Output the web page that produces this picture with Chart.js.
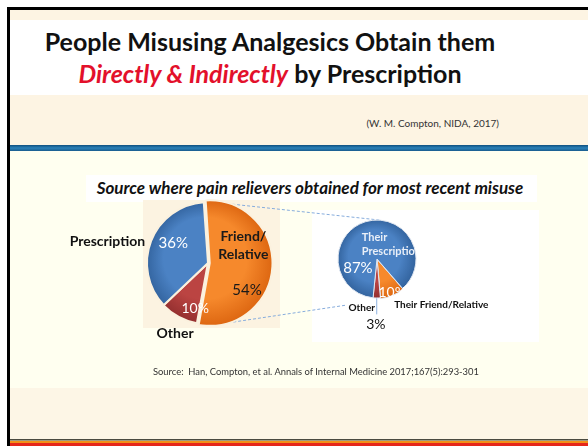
<!DOCTYPE html>
<html>
<head>
<meta charset="utf-8">
<script src="https://cdn.jsdelivr.net/npm/chart.js@4.4.1/dist/chart.umd.min.js"></script>
<style>
  body { margin: 0; width: 588px; height: 446px; position: relative; overflow: hidden; background: #fff; font-family: Lato, "Open Sans", sans-serif; }
  .abs { position: absolute; }
  canvas { position: absolute; }
</style>
</head>
<body>
<!-- slide background -->
<div class="abs" style="left:7px;top:7px;width:581px;height:439px;background:#fdf4e3;border-left:3px solid #000;border-top:3px solid #000;box-sizing:border-box"></div>
<div class="abs" style="left:10px;top:20px;width:578px;height:75px;background:#fff"></div>
<div class="abs" style="left:10px;top:145px;width:578px;height:6px;background:linear-gradient(#0f4f7e,#2a80b8 50%,#1a5d8e)"></div>
<div class="abs" style="left:10px;top:151px;width:578px;height:237px;background:#fffff0"></div>
<div class="abs" style="left:10px;top:388px;width:578px;height:51px;background:#fdf6e6"></div>
<div class="abs" style="left:10px;top:439px;width:578px;height:1px;background:#4a4a40"></div>
<div class="abs" style="left:10px;top:440px;width:578px;height:1px;background:#a09a80"></div>
<div class="abs" style="left:10px;top:441px;width:578px;height:2px;background:#f29018"></div>
<div class="abs" style="left:10px;top:443px;width:578px;height:3px;background:#e5261a"></div>

<!-- title -->
<div class="abs" style="left:0;top:25px;width:540px;text-align:center;font-weight:700;font-size:25px;line-height:32px;color:#111">
  People Misusing Analgesics Obtain them<br>
  <span style="color:#e3102b;font-style:italic">Directly &amp; Indirectly</span> by Prescription
</div>
<div class="abs" style="right:89px;top:117px;font-size:10px;color:#333">(W. M. Compton, NIDA, 2017)</div>

<!-- chart boxes -->
<div class="abs" style="left:86px;top:175px;width:451px;height:27px;background:#fff"></div>
<div class="abs" style="left:86px;top:176px;width:448px;text-align:center;font-weight:700;font-style:italic;font-size:17px;line-height:24px;color:#111;white-space:nowrap">Source where pain relievers obtained for most recent misuse</div>
<div class="abs" style="left:143px;top:200px;width:137px;height:128px;background:#fcf3e1"></div>
<div class="abs" style="left:312px;top:210px;width:227px;height:132px;background:#fff"></div>

<canvas id="links" width="588" height="446" style="left:0;top:0"></canvas>
<canvas id="mainPie" width="290" height="160" style="left:63px;top:183px"></canvas>
<canvas id="subPie" width="260" height="160" style="left:247px;top:179px"></canvas>

<div class="abs" style="left:153px;top:366px;font-size:9.4px;color:#333;white-space:nowrap">Source:&nbsp; Han, Compton, et al. Annals of Internal Medicine 2017;167(5):293-301</div>

<script>
// all sources of the most recently misused pain relievers (%)
const mainLabels = [['Friend/', 'Relative'], 'Other', 'Prescription'];
const mainValues = [54, 10, 36];
// where the friend/relative got them (%)
const subLabels = [['Their', 'Prescription'], 'Other', 'Their Friend/Relative'];
const subValues = [87, 3, 10];
const subOrder = [2, 1, 0];

const blue = ['#4b82c4', '#30609a'];
const orange = ['#f6892c', '#dc6510'];
const red = ['#bb4442', '#8f2d2d'];

function shade(palette, r) {
  return (c) => {
    const cols = palette[c.dataIndex];
    const a = c.chart.chartArea;
    if (!a || !cols) return cols ? cols[0] : '#999';
    const cx = (a.left + a.right) / 2, cy = (a.top + a.bottom) / 2;
    const g = c.chart.ctx.createRadialGradient(cx - r * 0.15, cy - r * 0.2, r * 0.1, cx, cy, r * 1.05);
    g.addColorStop(0, cols[0]);
    g.addColorStop(0.6, cols[0]);
    g.addColorStop(1, cols[1]);
    return g;
  };
}

const sliceText = {
  id: 'sliceText',
  afterDatasetsDraw(chart, args, opts) {
    const meta = chart.getDatasetMeta(0);
    const cx = meta.data[0].x, cy = meta.data[0].y, r = meta.data[0].outerRadius;
    const ctx = chart.ctx;
    opts.items.forEach(it => {
      const lines = it.kind === 'value'
        ? [chart.data.datasets[0].data[it.i] + '%']
        : [].concat(chart.data.labels[it.i]);
      ctx.save();
      if (it.clip) {
        ctx.beginPath();
        ctx.arc(cx, cy, r, 0, Math.PI * 2);
        ctx.clip();
      }
      ctx.font = it.font;
      ctx.fillStyle = it.color;
      ctx.textAlign = it.align || 'center';
      ctx.textBaseline = 'middle';
      lines.forEach((s, k) => ctx.fillText(s, cx + it.dx * r, cy + it.dy * r + k * (it.lh || 0)));
      ctx.restore();
    });
  }
};

const F = 'Lato, "Open Sans", sans-serif';
const mainR = 61, subR = 39;

const mainChart = new Chart(document.getElementById('mainPie'), {
  type: 'pie',
  data: {
    labels: mainLabels,
    datasets: [{
      data: mainValues,
      backgroundColor: shade([orange, red, blue], mainR),
      borderColor: '#fbf1de',
      borderWidth: 2,
      offset: [7, 1, 0]
    }]
  },
  options: {
    responsive: false,
    animation: false,
    radius: mainR,
    rotation: -4,
    events: [],
    plugins: {
      legend: { display: false },
      tooltip: { enabled: false },
      sliceText: {
        items: [
          { kind: 'label', i: 0, dx: 0.58, dy: -0.43, lh: 18, font: 'bold 14px ' + F, color: '#1a1a1a' },
          { kind: 'value', i: 0, dx: 0.64, dy: 0.44, font: '15px ' + F, color: '#1a1a1a' },
          { kind: 'value', i: 1, dx: -0.21, dy: 0.74, font: '14px ' + F, color: '#fff' },
          { kind: 'label', i: 1, dx: -0.54, dy: 1.15, font: 'bold 14px ' + F, color: '#111' },
          { kind: 'value', i: 2, dx: -0.57, dy: -0.32, font: '15px ' + F, color: '#fff' },
          { kind: 'label', i: 2, dx: -1.03, dy: -0.36, align: 'right', font: 'bold 14px ' + F, color: '#111' }
        ]
      }
    }
  },
  plugins: [sliceText]
});

const subChart = new Chart(document.getElementById('subPie'), {
  type: 'pie',
  data: {
    labels: subOrder.map(i => subLabels[i]),
    datasets: [{
      data: subOrder.map(i => subValues[i]),
      backgroundColor: shade([orange, red, blue], subR),
      borderColor: '#dfe6f0',
      borderWidth: 1,
      offset: [2, 0, 0]
    }]
  },
  options: {
    responsive: false,
    animation: false,
    radius: subR,
    rotation: 139,
    events: [],
    plugins: {
      legend: { display: false },
      tooltip: { enabled: false },
      sliceText: {
        items: [
          { kind: 'label', i: 2, dx: -0.39, dy: -0.54, lh: 14, align: 'left', clip: true, font: 'bold 11px ' + F, color: '#e9eff8' },
          { kind: 'value', i: 2, dx: -0.49, dy: 0.23, font: '15px ' + F, color: '#fff' },
          { kind: 'value', i: 0, dx: 0.39, dy: 0.85, font: '14px ' + F, color: '#fff' },
          { kind: 'label', i: 0, dx: 0.44, dy: 1.18, align: 'left', font: 'bold 10px ' + F, color: '#111' },
          { kind: 'label', i: 1, dx: -0.39, dy: 1.26, font: 'bold 10px ' + F, color: '#111' },
          { kind: 'value', i: 1, dx: -0.03, dy: 1.69, font: '14px ' + F, color: '#111' }
        ]
      }
    }
  },
  plugins: [sliceText]
});

// dashed connectors from the friend/relative slice to the second pie
function drawLinks() {
  const ctx = document.getElementById('links').getContext('2d');
  const mc = mainChart.canvas, sc = subChart.canvas;
  const arc = mainChart.getDatasetMeta(0).data[0];
  const mid = (arc.startAngle + arc.endAngle) / 2;
  const ox = mc.offsetLeft + arc.x + Math.cos(mid) * arc.options.offset;
  const oy = mc.offsetTop + arc.y + Math.sin(mid) * arc.options.offset;
  const span = arc.endAngle - arc.startAngle;
  const pt = (f) => {
    const a = arc.startAngle + span * f;
    return [ox + Math.cos(a) * arc.outerRadius, oy + Math.sin(a) * arc.outerRadius];
  };
  const sub = subChart.getDatasetMeta(0).data;
  const sx = sc.offsetLeft + sub[0].x, sy = sc.offsetTop + sub[0].y, sr = sub[0].outerRadius;

  ctx.strokeStyle = '#86acdc';
  ctx.lineWidth = 1;
  ctx.setLineDash([3, 2]);
  const top = pt(0.08), bot = pt(0.93);
  ctx.beginPath();
  ctx.moveTo(top[0], top[1]);
  ctx.lineTo(sx + sr * Math.cos(-Math.PI / 2 + 0.08), sy + sr * Math.sin(-Math.PI / 2 + 0.08));
  ctx.moveTo(bot[0], bot[1]);
  ctx.lineTo(sx - 0.77 * sr, sy + 1.18 * sr);
  ctx.stroke();

  // leader from the small "Other" slice to its value
  const o = sub[1];
  const om = (o.startAngle + o.endAngle) / 2;
  const lx = sx + Math.cos(om) * sr;
  ctx.setLineDash([]);
  ctx.strokeStyle = '#8fb3e0';
  ctx.beginPath();
  ctx.moveTo(lx, sy + Math.sin(om) * sr);
  ctx.lineTo(lx, sy + 1.42 * sr);
  ctx.stroke();
}
drawLinks();
</script>
</body>
</html>
